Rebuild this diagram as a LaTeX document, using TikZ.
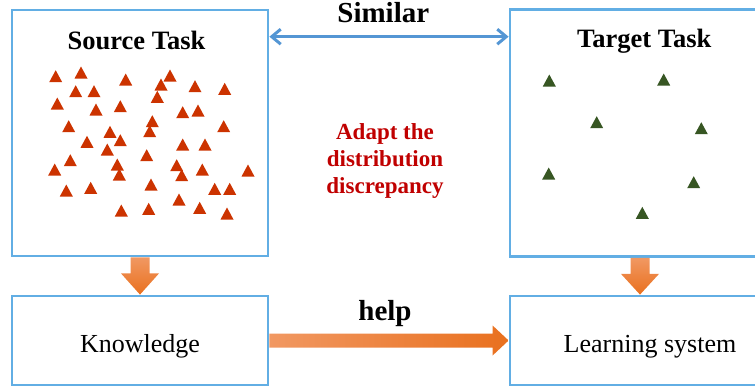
\documentclass[tikz,border=0pt]{standalone}
\usepackage{fontspec}
\setmainfont{Liberation Serif}
\usetikzlibrary{arrows.meta,positioning}

\definecolor{boxblue}{RGB}{98,174,228}
\definecolor{linkblue}{RGB}{84,150,212}
\definecolor{srcred}{RGB}{204,51,0}
\definecolor{tgtgreen}{RGB}{55,86,35}
\definecolor{adaptred}{RGB}{192,0,0}
\definecolor{orangelight}{RGB}{241,152,98}
\definecolor{orangedark}{RGB}{233,112,30}

\begin{document}
\begin{tikzpicture}[x=1pt, y=-1pt,
    taskbox/.style={draw=boxblue, line width=2.8pt, fill=white, inner sep=0pt},
    stagebox/.style={taskbox, minimum height=89pt, text height=23pt, text depth=0pt,
        font=\fontsize{26}{30}\selectfont},
    tasktitle/.style={anchor=base, font=\fontsize{26.5}{30}\selectfont\bfseries},
    linktext/.style={anchor=base, font=\fontsize{29}{32}\selectfont\bfseries}]
    \useasboundingbox (0,0) rectangle (755,388);

    % Boxes
    \node[taskbox, minimum width=256pt, minimum height=246pt] (source) at (140,133) {};
    \node[taskbox, minimum width=280pt, minimum height=247pt] (target) at (650,133) {};
    \node[stagebox, minimum width=256pt] (knowledge) at (140,340.5) {Knowledge};
    \node[stagebox, minimum width=280pt] (learner) at (650,340.5) {Learning system};

    % Titles
    \node[tasktitle] (srctitle) at (136.5,49.5) {Source Task};
    \node[tasktitle] (tgttitle) at (644.3,47) {Target Task};

    % Source samples
    \foreach \px/\py in {55.7/76.7, 81/73, 125.7/80, 170/76, 161/85, 75.7/91.7, 94/91.7,
        195/86.7, 224.7/89.3, 157.3/97.3, 57.3/104, 96/110, 120.3/106.7, 182.7/112.7,
        198/111, 152.3/121.7, 68.7/126.7, 223.7/126.7, 110/132.3, 149.7/131.7,
        120.3/140.7, 87/142.3, 182.7/145, 205/145, 107.3/150, 146.7/155.7, 70.3/160.7,
        54.7/170, 117.3/165, 119.3/175, 176.7/165.7, 181.7/175.7, 202.3/170, 248/171,
        66.3/191, 90.7/188.3, 151/185, 214.7/189.3, 229.7/189.3, 179/200, 121.3/211,
        148.7/209.3, 199.7/208.3, 227/214} {
        \fill[srcred] (\px,\py) ++(0,-6.5) -- ++(6.5,12) -- ++(-13,0) -- cycle;
    }

    % Target samples
    \foreach \px/\py in {549.3/81, 663.7/80, 596.7/122.7, 701.3/128.7, 548.7/174,
        693.7/182.7, 642.3/213.3} {
        \fill[tgtgreen] (\px,\py) ++(0,-6.5) -- ++(6.5,12) -- ++(-13,0) -- cycle;
    }

    % Similar link
    \coordinate (simrow) at (0,36.7);
    \draw[linkblue, line width=3pt, <->, >={Straight Barb[length=9pt,width=15pt]}]
        (source.east |- simrow) -- (target.west |- simrow);
    \node[linktext] (similar) at (383.3,22.7) {Similar};

    \node[align=center, text=adaptred, font=\fontsize{23}{27}\selectfont\bfseries]
        (adapt) at (385,161) {Adapt the\\distribution\\discrepancy};

    % Down arrows
    \foreach \from/\to/\dx in {source/knowledge/0, target/learner/-10} {
        \shade[top color=orangelight, bottom color=orangedark]
            ([xshift=\dx pt-9.5pt]\from.south) -- ([xshift=\dx pt-9.5pt,yshift=-16pt]\from.south)
            -- ([xshift=\dx pt-19pt,yshift=-16pt]\from.south) -- ([xshift=\dx pt]\to.north)
            -- ([xshift=\dx pt+19pt,yshift=-16pt]\from.south) -- ([xshift=\dx pt+9.5pt,yshift=-16pt]\from.south)
            -- ([xshift=\dx pt+9.5pt]\from.south) -- cycle;
    }

    % Help arrow
    \shade[left color=orangelight, right color=orangedark]
        ([yshift=7pt]knowledge.east) -- ([xshift=-16pt,yshift=7pt]learner.west)
        -- ([xshift=-16pt,yshift=15pt]learner.west) -- (learner.west)
        -- ([xshift=-16pt,yshift=-15pt]learner.west) -- ([xshift=-16pt,yshift=-7pt]learner.west)
        -- ([yshift=-7pt]knowledge.east) -- cycle;
    \node[linktext] (help) at (385,320) {help};
\end{tikzpicture}
\end{document}
